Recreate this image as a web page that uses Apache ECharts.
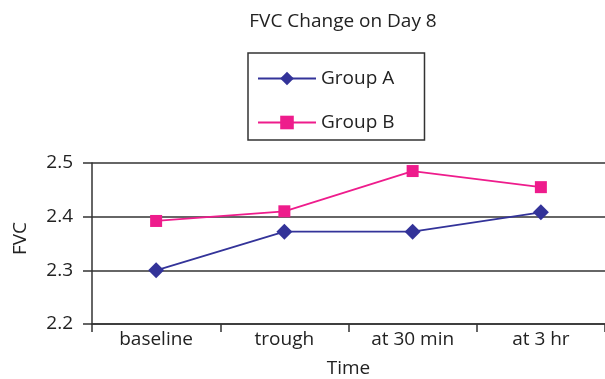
<!DOCTYPE html>
<html>
<head>
<meta charset="utf-8">
<script src="https://cdn.jsdelivr.net/npm/echarts@6/dist/echarts.min.js"></script>
<style>
html,body{margin:0;padding:0;background:#fff;}
#chart{width:605px;height:379px;}
</style>
</head>
<body>
<div id="chart"></div>
<script>
var categories = ['baseline', 'trough', 'at 30 min', 'at 3 hr'];
var groupA = [2.30, 2.372, 2.372, 2.408];
var groupB = [2.392, 2.41, 2.485, 2.455];
var yTicks = [2.2, 2.3, 2.4, 2.5];

var font = 'Open Sans';
var chart = echarts.init(document.getElementById('chart'));
chart.setOption({
  animation: false,
  title: {
    text: 'FVC Change on Day 8',
    left: 338, top: 7, textAlign: 'center',
    textStyle: {fontFamily: font, fontSize: 19, fontWeight: 'normal', color: '#222'}
  },
  legend: {
    orient: 'vertical',
    left: 248, top: 53,
    padding: [16, 30, 8, 9],
    borderColor: '#333', borderWidth: 1.5,
    itemWidth: 58, itemHeight: 17, itemGap: 25,
    textStyle: {fontFamily: font, fontSize: 19, color: '#222'},
    data: ['Group A', 'Group B']
  },
  grid: {left: 92, right: 0, top: 163, bottom: 52},
  xAxis: {
    type: 'category',
    data: categories,
    name: 'Time',
    nameLocation: 'middle',
    nameGap: 35,
    nameTextStyle: {fontFamily: font, fontSize: 19, color: '#222'},
    axisLine: {lineStyle: {color: '#333', width: 1.5}},
    axisTick: {show: true, length: 8, lineStyle: {color: '#333', width: 1.5}},
    axisLabel: {fontFamily: font, fontSize: 19, color: '#222', margin: 6}
  },
  yAxis: {
    type: 'value',
    min: 2.2, max: 2.5, interval: 0.1,
    name: 'FVC',
    nameLocation: 'middle',
    nameGap: 62,
    nameTextStyle: {fontFamily: font, fontSize: 19, color: '#222', padding: [0, 0, 0, 10]},
    axisLine: {show: true, lineStyle: {color: '#333', width: 1.5}},
    axisTick: {show: true, length: 9, lineStyle: {color: '#333', width: 1.5}},
    axisLabel: {
      fontFamily: font, fontSize: 19, color: '#222', margin: 19,
      formatter: function (v) {
        for (var i = 0; i < yTicks.length; i++) {
          if (Math.abs(v - yTicks[i]) < 1e-6) return yTicks[i].toFixed(1);
        }
        return '';
      }
    },
    splitLine: {lineStyle: {color: '#666', width: 1.8}}
  },
  series: [
    {
      name: 'Group A', type: 'line', data: groupA,
      symbol: 'diamond', symbolSize: 16,
      lineStyle: {color: '#333399', width: 1.8},
      itemStyle: {color: '#333399'}
    },
    {
      name: 'Group B', type: 'line', data: groupB,
      symbol: 'rect', symbolSize: 12,
      lineStyle: {color: '#ee1c8c', width: 1.8},
      itemStyle: {color: '#ee1c8c'}
    }
  ]
});
</script>
</body>
</html>
